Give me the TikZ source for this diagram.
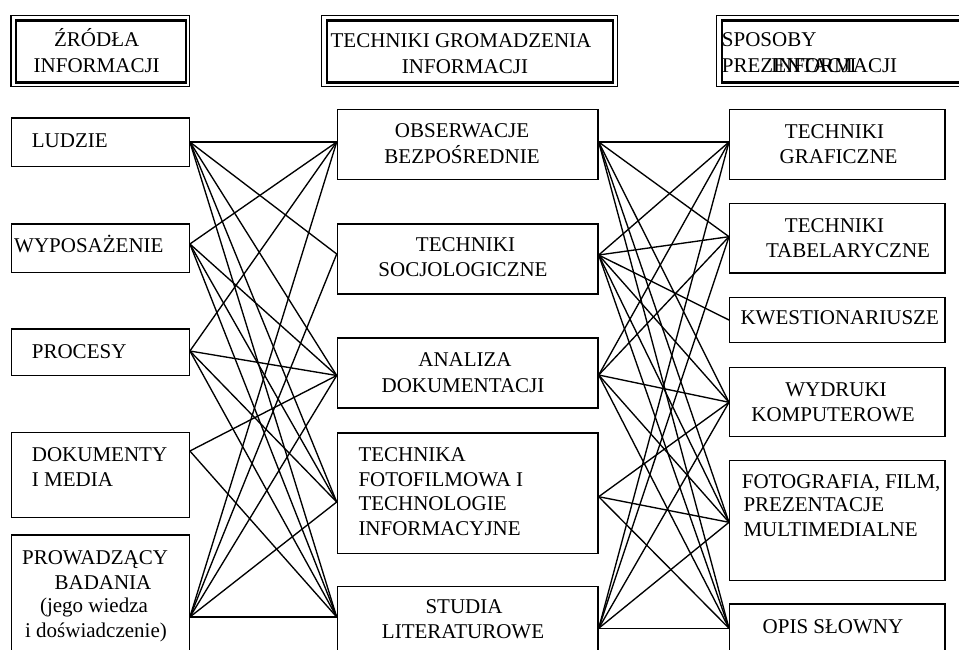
\documentclass[tikz,border=0pt]{standalone}
\usepackage{fontspec}
\setmainfont{Liberation Serif}
\usetikzlibrary{calc}
\begin{document}
\begin{tikzpicture}[x=1pt,y=-1pt,
  box/.style={draw, line width=1.4pt, inner sep=0pt, anchor=north west},
  hout/.style={draw, line width=1.1pt, inner sep=0pt, anchor=north west},
  hin/.style={draw, line width=2.4pt, inner sep=0pt, anchor=north west},
  txt/.style={inner sep=0pt, font=\fontsize{21}{25}\selectfont, anchor=base},
  txl/.style={txt, anchor=base west},
  link/.style={line width=1.35pt}]
\useasboundingbox (0,0) rectangle (959,650);

% ---------- headers (double frames) ----------
\node[hout, minimum width=178.5, minimum height=71.6] (h1o) at (10.4,14.7) {};
\node[hin,  minimum width=169.8, minimum height=62.2] (h1i) at (14.8,19.2) {};
\node[hout, minimum width=295.5, minimum height=71.6] (h2o) at (321,14.7) {};
\node[hin,  minimum width=286.5, minimum height=62.2] (h2i) at (325.5,19.2) {};
\node[hout, minimum width=260, minimum height=71.6] (h3o) at (716,14.7) {};
\node[hin,  minimum width=250, minimum height=62.2] (h3i) at (720.5,19.2) {};

\node[txt] (th1a) at (96.7,46.7) {ŹRÓDŁA};
\node[txt] (th1b) at (96.7,72.7) {INFORMACJI};
\node[txt] (th2a) at (461,47.7) {TECHNIKI GROMADZENIA};
\node[txt] (th2b) at (465,73.3) {INFORMACJI};
\node[txl] (th3a) at (721.7,46.7) {SPOSOBY};
\node[txl] (th3b) at (721.7,72.7) {PREZENTACJI};
\node[txl] (th3c) at (771,72.7) {INFORMACJI};

% ---------- left column ----------
\node[box, minimum width=177.8, minimum height=48.4] (lud) at (10.7,117.3) {};
\node[box, minimum width=177.8, minimum height=48.4] (wyp) at (10.7,223.3) {};
\node[box, minimum width=177.8, minimum height=46.7] (pro) at (10.7,328.3) {};
\node[box, minimum width=177.8, minimum height=85]   (dok) at (10.7,431.7) {};
\node[box, minimum width=177.8, minimum height=126]  (prw) at (10.7,534.3) {};

\node[txl] (tlud) at (31.7,147.7) {LUDZIE};
\node[txl] (twyp) at (14,252.7) {WYPOSAŻENIE};
\node[txl] (tpro) at (31.7,358.3) {PROCESY};
\node[txl] (tdok1) at (31.7,461.7) {DOKUMENTY};
\node[txl] (tdok2) at (31.7,486.7) {I MEDIA};
\node[txt] (tprw1) at (95,564.3) {PROWADZĄCY};
\node[txt] (tprw2) at (103,589.3) {BADANIA};
\node[txt] (tprw3) at (94,612.7) {(jego wiedza};
\node[txt] (tprw4) at (96,637.7) {i doświadczenie)};

% ---------- middle column ----------
\node[box, minimum width=260.6, minimum height=70]    (obs) at (336.7,109) {};
\node[box, minimum width=260.6, minimum height=70]    (soc) at (336.7,223.3) {};
\node[box, minimum width=260.6, minimum height=70]    (ana) at (336.7,337.3) {};
\node[box, minimum width=260.6, minimum height=120.4] (tfo) at (336.7,432.3) {};
\node[box, minimum width=260.6, minimum height=74]    (stu) at (336.7,586) {};

\node[txt] (tobs1) at (462,137.7) {OBSERWACJE};
\node[txt] (tobs2) at (462,163.3) {BEZPOŚREDNIE};
\node[txt] (tsoc1) at (465.5,251.7) {TECHNIKI};
\node[txt] (tsoc2) at (463,276.7) {SOCJOLOGICZNE};
\node[txt] (tana1) at (465,366.7) {ANALIZA};
\node[txt] (tana2) at (463,392.3) {DOKUMENTACJI};
\node[txl] (ttfo1) at (358.3,461.7) {TECHNIKA};
\node[txl] (ttfo2) at (358.3,486.7) {FOTOFILMOWA I};
\node[txl] (ttfo3) at (358.3,510.7) {TECHNOLOGIE};
\node[txl] (ttfo4) at (358.3,535.7) {INFORMACYJNE};
\node[txt] (tstu1) at (464,613.3) {STUDIA};
\node[txt] (tstu2) at (463,638.3) {LITERATUROWE};

% ---------- right column ----------
\node[box, minimum width=215.3, minimum height=70]   (gra) at (729,109) {};
\node[box, minimum width=215.3, minimum height=69.6] (tab) at (729,202.7) {};
\node[box, minimum width=215.3, minimum height=45]   (kwe) at (729,296.7) {};
\node[box, minimum width=215.3, minimum height=69]   (wyd) at (729,366.7) {};
\node[box, minimum width=215.3, minimum height=120]  (fot) at (729,460) {};
\node[box, minimum width=215.3, minimum height=57]   (opi) at (729,603.3) {};

\node[txt] (tgra1) at (834.5,139) {TECHNIKI};
\node[txt] (tgra2) at (838.6,164) {GRAFICZNE};
\node[txt] (ttab1) at (834.5,232.3) {TECHNIKI};
\node[txt] (ttab2) at (848,257.7) {TABELARYCZNE};
\node[txt] (tkwe) at (839.7,324) {KWESTIONARIUSZE};
\node[txt] (twyd1) at (836,396) {WYDRUKI};
\node[txt] (twyd2) at (833,421.7) {KOMPUTEROWE};
\node[txl] (tfot1) at (741.7,488.3) {FOTOGRAFIA, FILM,};
\node[txl] (tfot2) at (743.3,511.7) {PREZENTACJE};
\node[txl] (tfot3) at (743.3,536.7) {MULTIMEDIALNE};
\node[txt] (topi) at (833,633.3) {OPIS SŁOWNY};

% ---------- ports ----------
\coordinate (ludR) at ($(lud.north east)+(0,24.7)$);
\coordinate (wypR) at ($(wyp.north east)+(0,20.7)$);
\coordinate (proR) at ($(pro.north east)+(0,22.7)$);
\coordinate (dokR) at ($(dok.north east)+(0,19.3)$);
\coordinate (prwR) at ($(prw.north east)+(0,82.7)$);

\coordinate (obsL) at ($(obs.north west)+(0,33)$);
\coordinate (socL) at ($(soc.north west)+(0,30.7)$);
\coordinate (anaL) at ($(ana.north west)+(0,38.2)$);
\coordinate (tfoL) at ($(tfo.north west)+(0,69.7)$);
\coordinate (stuL) at ($(stu.north west)+(0,31)$);

\coordinate (obsR) at ($(obs.north east)+(0,33)$);
\coordinate (socR) at ($(soc.north east)+(0,31.7)$);
\coordinate (anaR) at ($(ana.north east)+(0,37.7)$);
\coordinate (tfoR) at ($(tfo.north east)+(0,64.4)$);
\coordinate (stuR) at ($(stu.north east)+(0,42.3)$);

\coordinate (graL) at ($(gra.north west)+(0,33)$);
\coordinate (tabL) at ($(tab.north west)+(0,34)$);
\coordinate (kweL) at ($(kwe.north west)+(0,23.3)$);
\coordinate (wydL) at ($(wyd.north west)+(0,35.6)$);
\coordinate (fotL) at ($(fot.north west)+(0,62.3)$);
\coordinate (opiL) at ($(opi.north west)+(0,25)$);

% ---------- connectors ----------
\foreach \a/\b in {ludR/obsL, ludR/socL, ludR/anaL, ludR/tfoL, ludR/stuL,
                   wypR/obsL, wypR/anaL, wypR/tfoL, wypR/stuL,
                   proR/obsL, proR/anaL, proR/tfoL, proR/stuL,
                   dokR/anaL, dokR/stuL,
                   prwR/obsL, prwR/socL, prwR/anaL, prwR/tfoL, prwR/stuL,
                   obsR/graL, obsR/tabL, obsR/wydL, obsR/fotL, obsR/opiL,
                   socR/graL, socR/tabL, socR/kweL, socR/wydL, socR/fotL, socR/opiL,
                   anaR/graL, anaR/tabL, anaR/wydL, anaR/fotL, anaR/opiL,
                   tfoR/wydL, tfoR/fotL, tfoR/opiL,
                   stuR/graL, stuR/tabL, stuR/wydL, stuR/fotL, stuR/opiL}
  \draw[link] (\a) -- (\b);
\end{tikzpicture}
\end{document}
